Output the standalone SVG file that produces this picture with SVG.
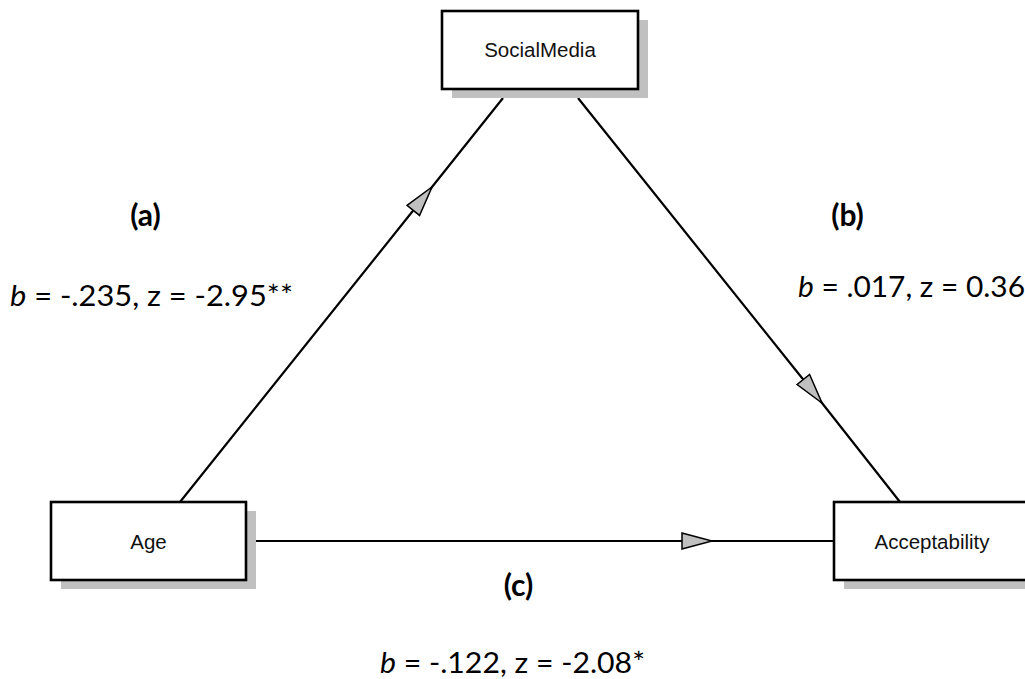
<svg xmlns="http://www.w3.org/2000/svg" width="1025" height="679" viewBox="0 0 1025 679">
<defs>
<style>
.box{fill:#ffffff;stroke:#000000;stroke-width:2.6}
.shadow{fill:#c0c0c0;stroke:none}
.nlabel{font-family:"Liberation Sans",Arial,sans-serif;font-size:20.5px;fill:#111111;text-anchor:middle}
.conn{fill:none;stroke:#000000;stroke-width:2.2}
.tag{font-family:Lato,"Open Sans",sans-serif;font-size:30px;font-weight:bold;fill:#000000;text-anchor:middle}
.stat{font-family:Lato,"Open Sans",sans-serif;font-size:29px;fill:#000000}
</style>
<marker id="tri" markerUnits="userSpaceOnUse" markerWidth="36" markerHeight="22" refX="31" refY="9" orient="auto">
<path d="M1,1 L31,9 L1,17 Z" fill="#c0c0c0" stroke="#000000" stroke-width="1.5" stroke-linejoin="miter"/>
</marker>
</defs>
<rect width="1025" height="679" fill="#ffffff"/>
<g id="connectors">
<path class="conn" d="M180,502 L432,187 L503,98" marker-mid="url(#tri)"/>
<path class="conn" d="M578,98 L822,403 L900,502" marker-mid="url(#tri)"/>
<path class="conn" d="M256,541 L712,541 L834,541" marker-mid="url(#tri)"/>
</g>
<g id="node-socialmedia">
<rect class="shadow" x="452" y="20" width="196" height="78"/>
<rect class="box" x="442" y="11" width="196" height="78"/>
<text class="nlabel" x="540" y="57">SocialMedia</text>
</g>
<g id="node-age">
<rect class="shadow" x="61" y="511" width="195" height="78"/>
<rect class="box" x="51" y="502" width="195" height="78"/>
<text class="nlabel" x="148.5" y="548.5">Age</text>
</g>
<g id="node-acceptability">
<rect class="shadow" x="844" y="511" width="196" height="78"/>
<rect class="box" x="834" y="502" width="196" height="78"/>
<text class="nlabel" x="932" y="549">Acceptability</text>
</g>
<g id="labels">
<text class="tag" x="145.5" y="226">(a)</text>
<text class="tag" x="847.5" y="226">(b)</text>
<text class="tag" x="518.5" y="596">(c)</text>
<text class="stat" x="10" y="306" textLength="283" lengthAdjust="spacingAndGlyphs"><tspan font-style="italic">b</tspan> = -.235, z = -2.95**</text>
<text class="stat" x="798" y="297" textLength="227" lengthAdjust="spacingAndGlyphs"><tspan font-style="italic">b</tspan> = .017, z = 0.36</text>
<text class="stat" x="380" y="673" textLength="265" lengthAdjust="spacingAndGlyphs"><tspan font-style="italic">b</tspan> = -.122, z = -2.08*</text>
</g>
</svg>
